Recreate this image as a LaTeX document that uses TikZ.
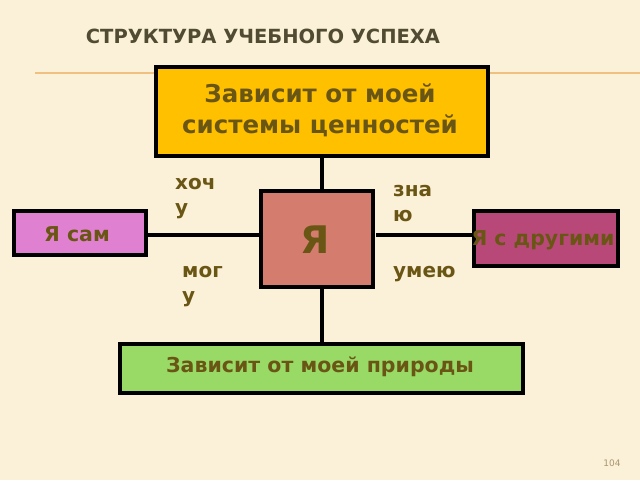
\documentclass[tikz,border=0pt]{standalone}
\usepackage{fontspec}
\setmainfont{DejaVu Sans}
\begin{document}
\begin{tikzpicture}[x=1pt,y=-1pt,
  box/.style={draw=black,line width=3.5pt,inner sep=0pt,anchor=north west},
  txt/.style={text=txtc,font=\bfseries\fontsize{20.5}{24}\selectfont},
  lab/.style={text=txtc,font=\bfseries\fontsize{20}{25}\selectfont,align=left,anchor=north west,inner sep=0pt},
  link/.style={line width=3.5pt}]
\definecolor{bg}{HTML}{FBF0D8}
\definecolor{txtc}{HTML}{6A5614}
\useasboundingbox (0,0) rectangle (640,480);
\fill[bg] (0,0) rectangle (640,480);
\draw[color={rgb,255:red,240;green,192;blue,128},line width=1.5pt] (35,73) -- (640,73);
\node[text={rgb,255:red,80;green,75;blue,50},font=\bfseries\fontsize{19.5}{22}\selectfont] (title) at (263,36) {СТРУКТУРА УЧЕБНОГО УСПЕХА};
\node[box,fill={rgb,255:red,255;green,192;blue,0},minimum width=332pt,minimum height=89pt] (top) at (154,65) {};
\node[txt,font=\bfseries\fontsize{24.5}{31}\selectfont,align=center] (toptxt) at (320,110) {Зависит от моей\\системы ценностей};
\node[box,fill={rgb,255:red,212;green,125;blue,110},minimum width=112pt,minimum height=96pt] (me) at (259,189) {};
\node[txt,font=\bfseries\fontsize{38}{40}\selectfont] (metxt) at (315,240) {Я};
\node[box,fill={rgb,255:red,224;green,128;blue,208},minimum width=132pt,minimum height=44pt] (self) at (12,209) {};
\node[txt] (selftxt) at (77,234) {Я сам};
\node[box,fill={rgb,255:red,184;green,72;blue,120},minimum width=144pt,minimum height=55pt] (others) at (472,209) {};
\node[txt] (otherstxt) at (543,240) {Я с другими};
\node[box,fill={rgb,255:red,153;green,217;blue,102},minimum width=403pt,minimum height=49pt] (nat) at (118,342) {};
\node[txt] (nattxt) at (320,367) {Зависит от моей природы};
\coordinate (rgap) at (376,235);
\draw[link] (top.south) -- (top.south |- me.north);
\draw[link] (top.south |- me.south) -- (top.south |- nat.north);
\draw[link] (self.east |- 0,235) -- (me.west |- 0,235);
\draw[link] (rgap) -- (others.west |- 0,235);
\node[lab] (l1) at (175,178) {хоч\\у};
\node[lab] (l2) at (393,185) {зна\\ю};
\node[lab] (l3) at (182,266) {мог\\у};
\node[lab] (l4) at (393,266) {умею};
\node[text={rgb,255:red,170;green,150;blue,110},font=\fontsize{9}{10}\selectfont] (pg) at (612,463) {104};
\end{tikzpicture}
\end{document}
